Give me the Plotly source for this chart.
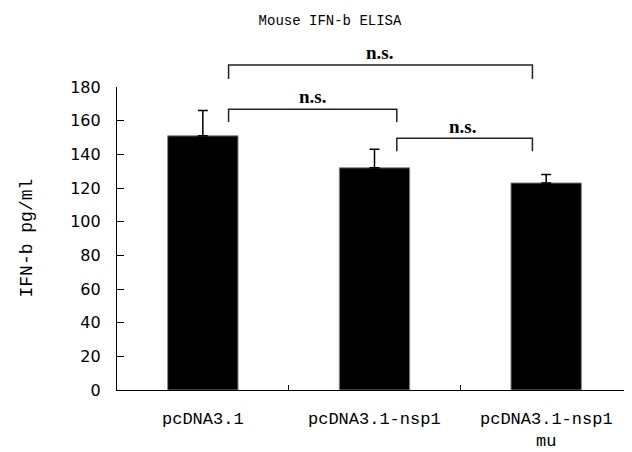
import plotly.graph_objects as go

categories = ["pcDNA3.1", "pcDNA3.1-nsp1", "pcDNA3.1-nsp1 mu"]
tick_labels = ["pcDNA3.1", "pcDNA3.1-nsp1", "pcDNA3.1-nsp1<br>mu"]
means = [151, 132, 123]
errors = [15, 11, 5]
y_ticks = [0, 20, 40, 60, 80, 100, 120, 140, 160, 180]
y_max = 180

# significance brackets: (x_left, x_right, bar_level, leg_level) in category / data units
brackets = [
    (0.15, 1.92, 193.1, 184.8),
    (0.15, 1.13, 166.8, 159.2),
    (1.13, 1.92, 149.6, 141.8),
]
# labels: (x, y, text)
sig_labels = [
    (1.03, 200.5, "n.s."),
    (0.64, 174.3, "n.s."),
    (1.51, 156.5, "n.s."),
]

# page draws the figure with an 8px body margin; compensate
OFF = 8
W, H = 632, 452
L, T = 117 - OFF, 87 - OFF
R = W - (632 - OFF)
B = H - (390 - OFF)

fig = go.Figure()
fig.add_trace(go.Bar(
    x=list(range(len(categories))),
    y=means,
    width=0.41,
    marker=dict(color="black", line=dict(color="#888888", width=1)),
    error_y=dict(type="data", symmetric=False, array=errors,
                 arrayminus=[0] * len(errors), color="black",
                 thickness=1.5, width=5),
    showlegend=False,
))

shapes = []
for xl, xr, yb, yl in brackets:
    shapes.append(dict(type="path", xref="x", yref="paper",
                       path=f"M {xl},{yl / y_max} L {xl},{yb / y_max} L {xr},{yb / y_max} L {xr},{yl / y_max}",
                       line=dict(color="#222222", width=1.5)))

annotations = []
for x, y, t in sig_labels:
    annotations.append(dict(x=x, y=y / y_max, xref="x", yref="paper", text=f"<b>{t}</b>",
                            showarrow=False, xanchor="center", yanchor="middle",
                            font=dict(family="Liberation Serif", size=19, color="black")))
# y-axis title
annotations.append(dict(x=(26 - OFF - L) / (W - L - R), y=0.5, xref="paper", yref="paper",
                        text="IFN-b pg/ml", textangle=-90, showarrow=False,
                        xanchor="center", yanchor="middle",
                        font=dict(family="Liberation Mono", size=18, color="black")))

fig.update_layout(
    width=W, height=H,
    margin=dict(l=L, r=R, t=T, b=B),
    paper_bgcolor="white", plot_bgcolor="white",
    title=dict(text="Mouse IFN-b ELISA", x=(330 - OFF) / W, xanchor="center",
               y=1 - (20 - OFF) / H, yanchor="middle", yref="container",
               font=dict(family="Liberation Mono", size=14, color="black")),
    xaxis=dict(
        range=[-0.5, 2.5],
        tickmode="array",
        tickvals=[-0.5, 0.5, 1.5, 2.5],
        ticktext=["", "", "", ""],
        ticks="inside", ticklen=5, tickcolor="black", tickwidth=1,
        showline=True, linecolor="black", linewidth=1.2,
        showgrid=False, zeroline=False,
    ),
    yaxis=dict(
        range=[0, y_max],
        tickmode="array", tickvals=y_ticks,
        ticks="inside", ticklen=7, tickcolor="black", tickwidth=1,
        showline=True, linecolor="black", linewidth=1.2,
        showgrid=False, zeroline=False,
        ticklabelstandoff=12,
        tickfont=dict(family="DejaVu Sans", size=16, color="black"),
    ),
    shapes=shapes,
    annotations=annotations,
)

# category labels below the axis
for i, lab in enumerate(tick_labels):
    fig.add_annotation(x=i, y=0, xref="x", yref="paper", yshift=-18,
                       text=lab, showarrow=False, xanchor="center", yanchor="top",
                       font=dict(family="Liberation Mono", size=17, color="black"))

fig.write_html("out.html")
